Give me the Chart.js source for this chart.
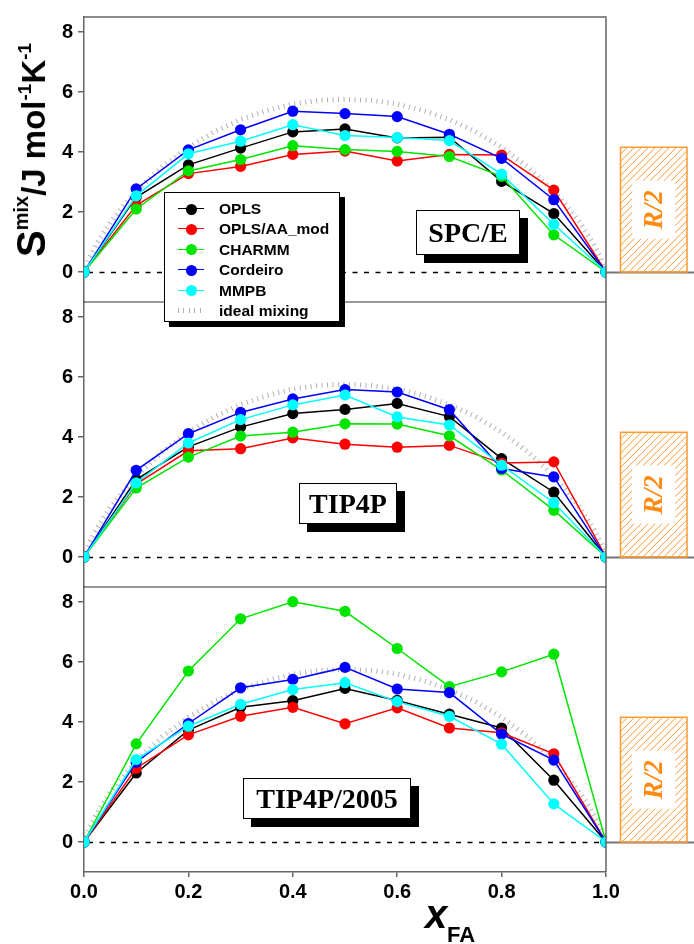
<!DOCTYPE html>
<html><head><meta charset="utf-8">
<script src="https://cdn.jsdelivr.net/npm/chart.js@4.4.1/dist/chart.umd.min.js"></script>
<style>
html,body{margin:0;padding:0;background:#fff;}
#wrap{position:relative;width:694px;height:944px;overflow:hidden;background:#fff;}
#c{position:absolute;left:0;top:0;}
.lbl{position:absolute;background:#fff;border:1px solid #000;box-shadow:8px 8px 0 #000;font:bold 28px "Liberation Serif","Times New Roman",serif;display:flex;align-items:center;justify-content:center;box-sizing:border-box;color:#000;}
#legend{position:absolute;left:164px;top:192px;width:176px;height:130px;box-sizing:border-box;border:1px solid #000;background:#fff;box-shadow:5px 5px 0 #000;font:bold 15.5px "Liberation Sans",Arial,sans-serif;color:#000;}
.row{position:absolute;left:0;width:100%;height:20px;}
.ln{position:absolute;left:13px;width:26px;top:9px;height:0;border-top:1.5px solid #000;}
.mk{position:absolute;left:20.5px;top:4.5px;width:11px;height:11px;border-radius:50%;}
.tx{position:absolute;left:54px;top:0;line-height:20px;white-space:nowrap;}
#ytitle{position:absolute;left:31px;top:150px;transform:translate(-50%,-50%) rotate(-90deg);white-space:nowrap;font-family:"Liberation Sans",Arial,sans-serif;font-weight:bold;color:#000;line-height:1;}
#xtitle{position:absolute;left:0;top:0;font-family:"Liberation Sans",Arial,sans-serif;font-weight:bold;color:#000;}
</style>
</head><body>
<div id="wrap">
<canvas id="c" width="694" height="944"></canvas>
<div id="legend"></div>
<div class="lbl" style="left:416px;top:210px;width:104px;height:45px;">SPC/E</div>
<div class="lbl" style="left:299px;top:483px;width:98px;height:41px;">TIP4P</div>
<div class="lbl" style="left:243px;top:778px;width:168px;height:41px;">TIP4P/2005</div>
<div id="ytitle"><span style="font-size:40px">S</span><sup style="font-size:20px;vertical-align:17px">mix</sup><span style="font-size:33px">/J mol</span><sup style="font-size:19px;vertical-align:14px">-1</sup><span style="font-size:33px">K</span><sup style="font-size:19px;vertical-align:14px">-1</sup></div>
<div id="xtitle"><span style="position:absolute;left:425px;top:894px;font-size:40px;line-height:40px;font-style:italic;">x</span><span style="position:absolute;left:447px;top:924px;font-size:22px;line-height:22px;">FA</span></div>
</div>
<script>
// ---- data ----
const xValues = [0, 0.1, 0.2, 0.3, 0.4, 0.5, 0.6, 0.7, 0.8, 0.9, 1.0];
const xTicks = [0, 0.2, 0.4, 0.6, 0.8, 1.0];
const yTicks = [0, 2, 4, 6, 8];
const seriesNames = ['OPLS', 'OPLS/AA_mod', 'CHARMM', 'Cordeiro', 'MMPB'];
const panelNames = ['SPC/E', 'TIP4P', 'TIP4P/2005'];

// SPC/E
const oplsSPCE     = [0, 2.49, 3.57, 4.13, 4.67, 4.77, 4.47, 4.49, 3.02, 1.95, 0];
const oplsaaSPCE   = [0, 2.22, 3.28, 3.52, 3.92, 4.03, 3.70, 3.92, 3.90, 2.73, 0];
const charmmSPCE   = [0, 2.10, 3.37, 3.75, 4.21, 4.08, 4.02, 3.85, 3.19, 1.24, 0];
const cordeiroSPCE = [0, 2.77, 4.07, 4.74, 5.36, 5.28, 5.18, 4.59, 3.79, 2.41, 0];
const mmpbSPCE     = [0, 2.54, 3.94, 4.36, 4.91, 4.55, 4.48, 4.38, 3.26, 1.59, 0];
// TIP4P
const oplsTIP4P     = [0, 2.58, 3.67, 4.33, 4.78, 4.92, 5.12, 4.68, 3.28, 2.16, 0];
const oplsaaTIP4P   = [0, 2.43, 3.54, 3.61, 3.97, 3.76, 3.66, 3.72, 3.13, 3.17, 0];
const charmmTIP4P   = [0, 2.30, 3.33, 4.03, 4.16, 4.44, 4.43, 4.04, 2.90, 1.56, 0];
const cordeiroTIP4P = [0, 2.89, 4.11, 4.82, 5.27, 5.58, 5.50, 4.91, 2.95, 2.67, 0];
const mmpbTIP4P     = [0, 2.47, 3.80, 4.58, 5.07, 5.40, 4.67, 4.40, 3.06, 1.81, 0];
// TIP4P/2005
const opls2005     = [0, 2.30, 3.73, 4.49, 4.71, 5.12, 4.72, 4.26, 3.80, 2.06, 0];
const oplsaa2005   = [0, 2.46, 3.57, 4.19, 4.49, 3.94, 4.47, 3.80, 3.64, 2.94, 0];
const charmm2005   = [0, 3.27, 5.70, 7.44, 8.01, 7.69, 6.45, 5.18, 5.67, 6.26, 0];
const cordeiro2005 = [0, 2.66, 3.95, 5.14, 5.42, 5.82, 5.10, 4.98, 3.60, 2.73, 0];
const mmpb2005     = [0, 2.75, 3.86, 4.59, 5.08, 5.31, 4.68, 4.19, 3.26, 1.27, 0];
// ideal mixing curve
const idealX = [0, 0.01, 0.025, 0.05, 0.1, 0.15, 0.2, 0.25, 0.3, 0.35, 0.4, 0.45, 0.5, 0.55, 0.6, 0.65, 0.7, 0.75, 0.8, 0.85, 0.9, 0.95, 0.975, 0.99, 1];
const idealY = [0, 0.47, 0.97, 1.65, 2.70, 3.51, 4.16, 4.68, 5.08, 5.38, 5.60, 5.72, 5.76, 5.72, 5.60, 5.38, 5.08, 4.68, 4.16, 3.51, 2.70, 1.65, 0.97, 0.47, 0];
const rHalf = 4.157; // R/2 reference bar

// ---- styles ----
const seriesColors = ['#000000', '#ff0000', '#00e400', '#0000ff', '#00ffff'];
const ORANGE = '#ff9a30';
const panels = [
  { id: 'yTop', series: [oplsSPCE, oplsaaSPCE, charmmSPCE, cordeiroSPCE, mmpbSPCE] },
  { id: 'yMid', series: [oplsTIP4P, oplsaaTIP4P, charmmTIP4P, cordeiroTIP4P, mmpbTIP4P] },
  { id: 'yBot', series: [opls2005, oplsaa2005, charmm2005, cordeiro2005, mmpb2005] }
];

const datasets = [];
panels.forEach(p => {
  datasets.push({
    label: 'ideal mixing', yAxisID: p.id, xAxisID: 'x',
    data: idealX.map((x, i) => ({ x: x, y: idealY[i] })),
    borderColor: '#b0b0b0', borderWidth: 5, borderDash: [1, 4.5], borderCapStyle: 'butt',
    pointRadius: 0, fill: false, tension: 0, order: 10
  });
  p.series.forEach((arr, k) => {
    datasets.push({
      label: seriesNames[k], yAxisID: p.id, xAxisID: 'x',
      data: xValues.map((x, i) => ({ x: x, y: arr[i] })),
      borderColor: seriesColors[k], backgroundColor: seriesColors[k],
      borderWidth: 1.5, pointRadius: 5.6, pointBorderWidth: 0,
      pointBackgroundColor: seriesColors[k], fill: false, tension: 0, order: 6 - k
    });
  });
});

function yScale(id) {
  return {
    type: 'linear', position: 'left', stack: 'panels', stackWeight: 1,
    min: -1, max: 8.5,
    afterBuildTicks: s => { s.ticks = yTicks.map(v => ({ value: v })); },
    afterFit: s => { s.width = 84; },
    ticks: { color: '#000', font: { size: 20, weight: 'bold' }, padding: 5, callback: v => String(v) },
    grid: { display: true, drawOnChartArea: false, drawTicks: true, tickLength: 6, color: '#666', lineWidth: 1.5 },
    border: { display: true, color: '#666', width: 1.5 }
  };
}

const framePlugin = {
  id: 'frame',
  beforeDatasetsDraw(chart) {
    const ctx = chart.ctx, a = chart.chartArea;
    panels.forEach(p => {
      const s = chart.scales[p.id];
      const y0 = Math.round(s.getPixelForValue(0)) + 0.5;
      ctx.save();
      ctx.strokeStyle = '#000'; ctx.lineWidth = 1.5; ctx.setLineDash([5, 6.5]);
      ctx.beginPath(); ctx.moveTo(a.left + 4, y0); ctx.lineTo(a.right, y0); ctx.stroke();
      ctx.setLineDash([]); ctx.strokeStyle = '#777'; ctx.lineWidth = 2;
      ctx.beginPath(); ctx.moveTo(a.right, y0); ctx.lineTo(chart.width, y0); ctx.stroke();
      ctx.restore();
    });
  },
  afterDraw(chart) {
    const ctx = chart.ctx, a = chart.chartArea;
    ctx.save();
    ctx.strokeStyle = '#666'; ctx.lineWidth = 1.5;
    ctx.beginPath();
    ctx.moveTo(a.left, a.top); ctx.lineTo(a.right, a.top); ctx.lineTo(a.right, a.bottom);
    ctx.stroke();
    ctx.strokeStyle = '#333'; ctx.lineWidth = 1.2;
    ['yTop', 'yMid'].forEach(id => {
      const yy = chart.scales[id].bottom;
      ctx.beginPath(); ctx.moveTo(a.left, yy); ctx.lineTo(a.right, yy); ctx.stroke();
    });
    ctx.restore();
    // R/2 bars
    const x0 = 620.5, x1 = 687;
    panels.forEach(p => {
      const s = chart.scales[p.id];
      const yT = s.getPixelForValue(rHalf), yB = s.getPixelForValue(0);
      const h = yB - yT;
      ctx.save();
      ctx.beginPath(); ctx.rect(x0, yT, x1 - x0, h); ctx.clip();
      ctx.strokeStyle = ORANGE; ctx.lineWidth = 1;
      for (let k = -h; k < (x1 - x0) + h; k += 7) {
        ctx.beginPath(); ctx.moveTo(x0 + k, yB); ctx.lineTo(x0 + k + h, yT); ctx.stroke();
      }
      ctx.restore();
      const cx = (x0 + x1) / 2, cy = (yT + yB) / 2;
      ctx.save();
      ctx.fillStyle = '#fff'; ctx.fillRect(cx - 21.5, cy - 29, 43, 58);
      ctx.strokeStyle = ORANGE; ctx.lineWidth = 1.5; ctx.strokeRect(x0, yT, x1 - x0, h);
      ctx.translate(cx, cy); ctx.rotate(-Math.PI / 2);
      ctx.font = 'italic bold 27px "Liberation Serif", serif';
      ctx.fillStyle = '#ff8a10'; ctx.textAlign = 'center'; ctx.textBaseline = 'middle';
      ctx.fillText('R/2', 0, 1);
      ctx.restore();
    });
  }
};

Chart.defaults.font.family = '"Liberation Sans", Arial, sans-serif';
new Chart(document.getElementById('c'), {
  type: 'line',
  data: { datasets: datasets },
  options: {
    responsive: false, animation: false, events: [],
    layout: { padding: { top: 14, right: 88, left: 0, bottom: 0 } },
    plugins: { legend: { display: false }, tooltip: { enabled: false } },
    scales: {
      x: {
        type: 'linear', position: 'bottom', min: 0, max: 1,
        afterBuildTicks: s => { s.ticks = xTicks.map(v => ({ value: v })); },
        afterFit: s => { s.height = 72; },
        ticks: { color: '#000', font: { size: 20, weight: 'bold' }, padding: 3, maxRotation: 0, callback: v => Number(v).toFixed(1) },
        grid: { display: true, drawOnChartArea: false, drawTicks: true, tickLength: 5, color: '#666', lineWidth: 1.5 },
        border: { display: true, color: '#666', width: 1.5 }
      },
      yBot: yScale('yBot'),
      yMid: yScale('yMid'),
      yTop: yScale('yTop')
    }
  },
  plugins: [framePlugin]
});

// legend
const leg = document.getElementById('legend');
const entries = seriesNames.map((n, k) => ({ n: n, c: seriesColors[k] }));
entries.push({ n: 'ideal mixing', c: null });
entries.forEach((e, i) => {
  const row = document.createElement('div');
  row.className = 'row';
  row.style.top = (6 + i * 20.4) + 'px';
  if (e.c) {
    row.innerHTML = '<div class="ln" style="border-top-color:' + e.c + '"></div><div class="mk" style="background:' + e.c + '"></div>';
  } else {
    row.innerHTML = '<div style="position:absolute;left:13px;width:26px;top:7px;height:5px;background:repeating-linear-gradient(90deg,#b0b0b0 0 1px,transparent 1px 5.5px)"></div>';
  }
  const t = document.createElement('span');
  t.className = 'tx'; t.textContent = e.n;
  row.appendChild(t);
  leg.appendChild(row);
});
</script>
</body></html>
